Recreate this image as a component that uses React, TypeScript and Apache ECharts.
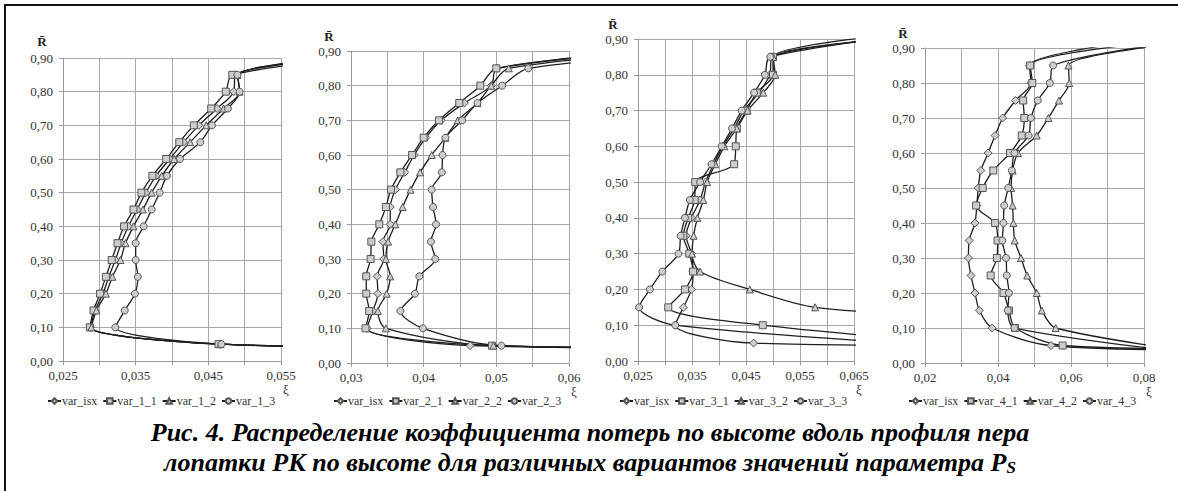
import React, { useEffect, useRef } from 'react';
import * as echarts from 'echarts';

// Relative height levels (R̄) at which the markers sit
const R_LEVELS = [0.05, 0.10, 0.15, 0.20, 0.25, 0.30, 0.35, 0.40, 0.45, 0.50, 0.55, 0.60, 0.65, 0.70, 0.75, 0.80, 0.85];

// ---------- Panel 1 ----------
const P1_NAMES = ['var_isx', 'var_1_1', 'var_1_2', 'var_1_3'];
const P1_ISX = [0.0466, 0.0288, 0.0294, 0.0305, 0.0313, 0.0322, 0.0330, 0.0340, 0.0352, 0.0364, 0.0378, 0.0397, 0.0416, 0.0437, 0.0462, 0.0485, 0.0487];
const P1_V1 = [0.0464, 0.0287, 0.0292, 0.0301, 0.0309, 0.0317, 0.0325, 0.0334, 0.0347, 0.0358, 0.0373, 0.0392, 0.0410, 0.0430, 0.0454, 0.0474, 0.0483];
const P1_V2 = [0.0467, 0.0289, 0.0296, 0.0309, 0.0318, 0.0329, 0.0336, 0.0347, 0.0360, 0.0372, 0.0386, 0.0403, 0.0425, 0.0447, 0.0471, 0.0493, 0.0490];
const P1_V3 = [0.0468, 0.0322, 0.0335, 0.0349, 0.0353, 0.0350, 0.0350, 0.0361, 0.0372, 0.0383, 0.0393, 0.0411, 0.0439, 0.0455, 0.0477, 0.0493, 0.0490];
const P1_LOW = [[0.08, 0.04], [0.08, 0.04], [0.08, 0.04], [0.08, 0.04]];
const P1_HIGH = [[0.07, 0.915], [0.07, 0.915], [0.07, 0.915], [0.07, 0.915]];

// ---------- Panel 2 ----------
const P2_NAMES = ['var_isx', 'var_2_1', 'var_2_2', 'var_2_3'];
const P2_ISX = [0.0464, 0.0322, 0.0330, 0.0337, 0.0336, 0.0345, 0.0344, 0.0354, 0.0354, 0.0361, 0.0374, 0.0387, 0.0403, 0.0424, 0.0456, 0.0493, 0.0501];
const P2_V1 = [0.0494, 0.0320, 0.0325, 0.0321, 0.0321, 0.0327, 0.0328, 0.0339, 0.0348, 0.0355, 0.0368, 0.0384, 0.0400, 0.0421, 0.0449, 0.0478, 0.0500];
const P2_V2 = [0.0496, 0.0348, 0.0337, 0.0349, 0.0354, 0.0348, 0.0351, 0.0361, 0.0371, 0.0382, 0.0395, 0.0411, 0.0430, 0.0447, 0.0474, 0.0493, 0.0517];
const P2_V3 = [0.0507, 0.0399, 0.0368, 0.0388, 0.0394, 0.0416, 0.0410, 0.0417, 0.0413, 0.0411, 0.0425, 0.0426, 0.0430, 0.0453, 0.0474, 0.0508, 0.0544];
const P2_LOW = [[0.09, 0.042], [0.09, 0.042], [0.09, 0.042], [0.09, 0.042]];
const P2_HIGH = [[0.075, 0.905], [0.075, 0.91], [0.075, 0.90], [0.075, 0.89]];

// ---------- Panel 3 ----------
const P3_NAMES = ['var_isx', 'var_3_1', 'var_3_2', 'var_3_3'];
const P3_ISX = [0.0464, 0.0319, 0.0334, 0.0349, 0.0352, 0.0349, 0.0339, 0.0349, 0.0365, 0.0375, 0.0390, 0.0407, 0.0428, 0.0446, 0.0474, 0.0494, 0.0498];
const P3_V1 = [null, 0.0481, 0.0306, 0.0337, 0.0352, 0.0345, 0.0334, 0.0343, 0.0355, 0.0356, 0.0428, 0.0431, 0.0433, 0.0451, 0.0470, 0.0500, 0.0500];
const P3_V2 = [null, null, 0.0578, 0.0457, 0.0365, 0.0350, 0.0353, 0.0360, 0.0371, 0.0378, 0.0393, 0.0410, 0.0433, 0.0453, 0.0482, 0.0504, 0.0500];
const P3_V3 = [null, 0.0319, 0.0252, 0.0272, 0.0295, 0.0325, 0.0329, 0.0337, 0.0346, 0.0365, 0.0386, 0.0405, 0.0424, 0.0442, 0.0465, 0.0485, 0.0495];
const P3_LOW = [[0.09, 0.043], [0.085, 0.05], [0.085, 0.125], [0.085, 0.04]];
const P3_HIGH = [[0.08, 0.915], [0.08, 0.925], [0.08, 0.91], [0.08, 0.92]];

// ---------- Panel 4 ----------
const P4_NAMES = ['var_isx', 'var_4_1', 'var_4_2', 'var_4_3'];
const P4_ISX = [0.0545, 0.0384, 0.0349, 0.0337, 0.0326, 0.0319, 0.0321, 0.0337, 0.0342, 0.0346, 0.0353, 0.0373, 0.0392, 0.0413, 0.0448, 0.0490, 0.0486];
const P4_V1 = [0.0577, 0.0447, 0.0430, 0.0415, 0.0380, 0.0397, 0.0399, 0.0392, 0.0340, 0.0358, 0.0387, 0.0433, 0.0465, 0.0472, 0.0469, 0.0494, 0.0488];
const P4_V2 = [null, 0.0558, 0.0520, 0.0506, 0.0480, 0.0463, 0.0446, 0.0442, 0.0440, 0.0436, 0.0440, 0.0455, 0.0506, 0.0538, 0.0567, 0.0595, 0.0593];
const P4_V3 = [null, 0.0445, 0.0427, 0.0430, 0.0424, 0.0422, 0.0412, 0.0415, 0.0417, 0.0428, 0.0438, 0.0445, 0.0484, 0.0490, 0.0509, 0.0542, 0.0551];
const P4_LOW = [[0.1, 0.037], [0.1, 0.04], [0.095, 0.03], [0.1, 0.02]];
const P4_HIGH = [[0.085, 0.93], [0.09, 0.925], [0.095, 0.92], [0.095, 0.925]];

// x-axis ranges per panel
const X_MIN = [0.025, 0.03, 0.025, 0.02];
const X_MAX = [0.055, 0.06, 0.065, 0.08];
const X_STEP = [0.005, 0.005, 0.005, 0.01];
const X_DEC = [3, 2, 3, 2];

const PANELS = [
  { names: P1_NAMES, xs: [P1_ISX, P1_V1, P1_V2, P1_V3], low: P1_LOW, high: P1_HIGH },
  { names: P2_NAMES, xs: [P2_ISX, P2_V1, P2_V2, P2_V3], low: P2_LOW, high: P2_HIGH },
  { names: P3_NAMES, xs: [P3_ISX, P3_V1, P3_V2, P3_V3], low: P3_LOW, high: P3_HIGH },
  { names: P4_NAMES, xs: [P4_ISX, P4_V1, P4_V2, P4_V3], low: P4_LOW, high: P4_HIGH },
];

const CAPTION_1 = 'Рис. 4. Распределение коэффициента потерь по высоте вдоль профиля пера';
const CAPTION_2 = 'лопатки РК по высоте для различных вариантов значений параметра ';

const SYMBOLS = ['diamond', 'rect', 'triangle', 'circle'];
const SYMBOL_SIZES = [8, 7, 7, 7];
const FONT = 'Liberation Serif';

// layout (pixels)
const GRIDS = [
  { left: 63, top: 58, width: 218, height: 303 },
  { left: 351, top: 51, width: 218, height: 312 },
  { left: 638, top: 39, width: 216, height: 322 },
  { left: 925, top: 48, width: 219, height: 315 },
];
const LEGEND_LEFT = [42, 328, 614, 903];
const YNAME_PAD = [[0, 42, 2, 0], [0, 44, 0, 0], [0, 50, 0, 0], [0, 44, 0, 0]];

function buildData(xs: (number | null)[], low: number[], high: number[]) {
  const d: any[] = [{ value: low, symbol: 'none' }];
  xs.forEach((x, i) => {
    if (x !== null) d.push([x, R_LEVELS[i]]);
  });
  d.push({ value: high, symbol: 'none' });
  return d;
}

export default function App() {
  const ref = useRef<HTMLDivElement>(null);
  useEffect(() => {
    document.body.style.margin = '0';
    if (!ref.current) return;
    const chart = echarts.init(ref.current, undefined, { renderer: 'svg' });

    const grid = GRIDS.map((g) => ({ ...g, containLabel: false }));
    const xAxis = PANELS.map((_, i) => ({
      type: 'value',
      gridIndex: i,
      min: X_MIN[i],
      max: X_MAX[i],
      interval: X_STEP[i],
      axisLine: { show: true, lineStyle: { color: '#9a9a9a', width: 1 } },
      axisTick: { show: true, length: 4, lineStyle: { color: '#9a9a9a' } },
      splitLine: { show: true, lineStyle: { color: '#a8a8a8', width: 1 } },
      axisLabel: {
        color: '#333',
        fontFamily: FONT,
        fontSize: 13,
        margin: 8,
        formatter: (v: number) => {
          const k = Math.round((v - X_MIN[i]) / X_STEP[i]);
          return k % 2 === 0 ? v.toFixed(X_DEC[i]).replace('.', ',') : '';
        },
      },
      name: 'ξ',
      nameLocation: 'end',
      nameGap: 2,
      nameTextStyle: { color: '#333', fontFamily: FONT, fontSize: 13, verticalAlign: 'top', padding: [22, 0, 0, 0] },
    }));
    const yAxis = PANELS.map((_, i) => ({
      type: 'value',
      gridIndex: i,
      min: 0,
      max: 0.9,
      interval: 0.1,
      axisLine: { show: true, lineStyle: { color: '#9a9a9a', width: 1 } },
      axisTick: { show: true, length: 4, lineStyle: { color: '#9a9a9a' } },
      splitLine: { show: true, lineStyle: { color: '#a8a8a8', width: 1 } },
      axisLabel: {
        color: '#333',
        fontFamily: FONT,
        fontSize: 13,
        margin: 10,
        formatter: (v: number) => v.toFixed(2).replace('.', ','),
      },
      name: 'R̄',
      nameLocation: 'end',
      nameGap: 8,
      nameTextStyle: { color: '#222', fontFamily: FONT, fontSize: 13, fontWeight: 'bold', align: 'center', padding: YNAME_PAD[i] },
    }));

    const series: any[] = [];
    PANELS.forEach((p, i) => {
      p.names.forEach((name, k) => {
        series.push({
          type: 'line',
          name,
          xAxisIndex: i,
          yAxisIndex: i,
          data: buildData(p.xs[k], p.low[k], p.high[k]),
          smooth: 0.3,
          clip: true,
          symbol: SYMBOLS[k],
          symbolSize: SYMBOL_SIZES[k],
          showAllSymbol: true,
          lineStyle: { color: '#1e1e1e', width: 1.3 },
          itemStyle: { color: '#cdcdcd', borderColor: '#555', borderWidth: 1 },
          emphasis: { disabled: true },
        });
      });
    });

    const legend = PANELS.map((p, i) => ({
      data: p.names,
      left: LEGEND_LEFT[i],
      top: 390,
      itemGap: 5,
      itemWidth: 13,
      itemHeight: 7,
      selectedMode: false,
      textStyle: { color: '#333', fontFamily: FONT, fontSize: 12, padding: [0, 0, 0, -4] },
    }));

    chart.setOption({
      animation: false,
      backgroundColor: '#ffffff',
      textStyle: { fontFamily: FONT },
      grid,
      xAxis,
      yAxis,
      legend,
      series,
      graphic: [
        {
          type: 'rect',
          shape: { x: 5, y: 5, width: 1200, height: 520 },
          style: { fill: 'none', stroke: '#111', lineWidth: 2 },
          silent: true,
        },
        {
          type: 'text',
          x: 590,
          y: 432,
          style: {
            text: CAPTION_1,
            fontFamily: FONT,
            fontSize: 26,
            fontStyle: 'italic',
            fontWeight: 'bold',
            fill: '#000',
            align: 'center',
            verticalAlign: 'middle',
          },
        },
        {
          type: 'text',
          x: 590,
          y: 462,
          style: {
            text: '{a|' + CAPTION_2 + 'P}{s|S}',
            align: 'center',
            verticalAlign: 'middle',
            rich: {
              a: { fontFamily: FONT, fontSize: 26, fontStyle: 'italic', fontWeight: 'bold', fill: '#000' },
              s: { fontFamily: FONT, fontSize: 17, fontStyle: 'italic', fontWeight: 'bold', fill: '#000', verticalAlign: 'bottom', padding: [10, 0, 0, 0] },
            },
          },
        },
      ],
    });
    return () => chart.dispose();
  }, []);
  return <div ref={ref} style={{ position: 'absolute', left: 0, top: 0, width: 1178, height: 491 }} />;
}
